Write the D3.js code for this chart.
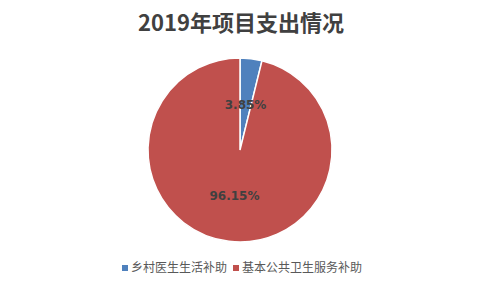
<!DOCTYPE html>
<html>
<head>
<meta charset="utf-8">
<script src="https://cdn.jsdelivr.net/npm/d3@7"></script>
<style>
  body { margin: 0; background: #fff; }
  text { font-family: "Noto Sans CJK SC", "DejaVu Sans", sans-serif; }
</style>
</head>
<body>
<div id="chart"></div>
<script>
var categories = ['乡村医生生活补助', '基本公共卫生服务补助'];
var values = [3.85, 96.15];
var colors = ['#4F81BD', '#C0504D'];
var title = '2019年项目支出情况';

var width = 479,
    height = 288,
    radius = 92;

var svg = d3.select('#chart').append('svg')
    .attr('width', width)
    .attr('height', height);

svg.append('text')
    .attr('x', 241)
    .attr('y', 31)
    .attr('text-anchor', 'middle')
    .style('font-size', '22px')
    .style('font-weight', 'bold')
    .style('fill', '#404040')
    .text(title);

var data = categories.map(function(c, i) { return {name: c, value: values[i], color: colors[i]}; });

var pie = d3.pie().sort(null).value(function(d) { return d.value; });
var arc = d3.arc().innerRadius(0).outerRadius(radius);
var labelArc = d3.arc().innerRadius(radius * 0.5).outerRadius(radius * 0.5);

var g = svg.append('g').attr('transform', 'translate(240,150)');

g.selectAll('path')
    .data(pie(data))
    .enter().append('path')
    .attr('d', arc)
    .attr('fill', function(d) { return d.data.color; })
    .attr('stroke', '#fff')
    .attr('stroke-width', 1.5);

// labels go on top of every slice
g.selectAll('text.label')
    .data(pie(data))
    .enter().append('text')
    .attr('class', 'label')
    .attr('transform', function(d) { return 'translate(' + labelArc.centroid(d) + ')'; })
    .attr('text-anchor', 'middle')
    .attr('dy', '.35em')
    .style('font-family', '"DejaVu Sans", sans-serif')
    .style('font-size', '12px')
    .style('font-weight', 'bold')
    .style('fill', '#404040')
    .text(function(d) { return d.data.value.toFixed(2) + '%'; });

// legend
var legendX = [122, 233];
var legend = svg.selectAll('g.legend')
    .data(data)
    .enter().append('g')
    .attr('class', 'legend')
    .attr('transform', function(d, i) { return 'translate(' + legendX[i] + ',268)'; });

legend.append('rect')
    .attr('x', 0)
    .attr('y', -3)
    .attr('width', 6)
    .attr('height', 6)
    .attr('fill', function(d) { return d.color; });

legend.append('text')
    .attr('x', 9)
    .attr('dy', '.35em')
    .style('font-size', '12px')
    .style('fill', '#595959')
    .text(function(d) { return d.name; });
</script>
</body>
</html>
